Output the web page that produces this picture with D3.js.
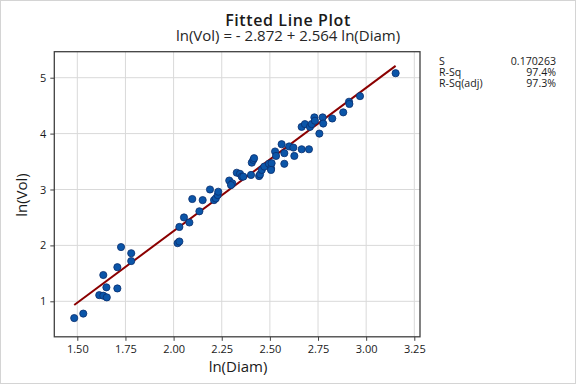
<!DOCTYPE html>
<html><head><meta charset="utf-8">
<script src="https://cdn.jsdelivr.net/npm/d3@7/dist/d3.min.js"></script>
<style>html,body{margin:0;padding:0;background:#fff;}svg{display:block;font-family:"Open Sans","Noto Sans",sans-serif;}</style>
</head><body><svg id="c" width="576" height="384"></svg>
<script>
const lnDiam = [1.484,1.531,1.614,1.635,1.653,1.651,1.635,1.708,1.708,1.727,1.780,1.780,2.021,2.030,2.030,2.054,2.082,2.134,2.097,2.151,2.189,2.210,2.219,2.229,2.232,2.289,2.305,2.298,2.328,2.345,2.354,2.362,2.402,2.406,2.414,2.418,2.444,2.449,2.458,2.471,2.495,2.506,2.509,2.506,2.527,2.532,2.561,2.575,2.575,2.600,2.622,2.627,2.665,2.703,2.665,2.682,2.708,2.717,2.731,2.734,2.757,2.774,2.777,2.824,2.881,2.911,2.913,2.968,3.153];
const lnVol = [0.70,0.78,1.11,1.10,1.07,1.25,1.47,1.23,1.61,1.97,1.86,1.72,2.04,2.07,2.33,2.50,2.41,2.61,2.83,2.81,3.00,2.81,2.84,2.90,2.96,3.16,3.11,3.08,3.30,3.28,3.23,3.23,3.26,3.48,3.53,3.56,3.24,3.27,3.35,3.41,3.46,3.38,3.47,3.35,3.68,3.60,3.81,3.65,3.46,3.77,3.75,3.60,3.72,3.72,4.12,4.17,4.12,4.17,4.29,4.23,4.00,4.29,4.18,4.27,4.38,4.57,4.53,4.67,5.08];
const xTicks = [1.50,1.75,2.00,2.25,2.50,2.75,3.00,3.25];
const yTicks = [1,2,3,4,5];
const intercept = -2.872, slope = 2.564;
const statLabels = ["S","R-Sq","R-Sq(adj)"];
const statValues = ["0.170263","97.4%","97.3%"];

const svg = d3.select("#c");
const L=54.3, R=420, T=51.7, B=336.8;
const x = d3.scaleLinear().domain([1.3805,3.2796]).range([L,R]);
const y = d3.scaleLinear().domain([0.365,5.465]).range([B,T]);

svg.append("rect").attr("x",0.5).attr("y",0.5).attr("width",575).attr("height",383).attr("fill","#fff").attr("stroke","#d4d4d4");

// grid
svg.append("g").selectAll("line").data(xTicks).join("line")
  .attr("x1",d=>x(d)).attr("x2",d=>x(d)).attr("y1",T).attr("y2",B)
  .attr("stroke","#d9d9d9").attr("stroke-width",1);
svg.append("g").selectAll("line").data(yTicks).join("line")
  .attr("y1",d=>y(d)).attr("y2",d=>y(d)).attr("x1",L).attr("x2",R)
  .attr("stroke","#d9d9d9").attr("stroke-width",1);

// axes
const xa = svg.append("g").attr("transform",`translate(0,${B})`)
  .call(d3.axisBottom(x).tickValues(xTicks).tickFormat(d3.format(".2f")).tickSize(4).tickSizeOuter(0));
const ya = svg.append("g").attr("transform",`translate(${L},0)`)
  .call(d3.axisLeft(y).tickValues(yTicks).tickFormat(d3.format("d")).tickSize(4).tickSizeOuter(0));
[xa,ya].forEach(a=>{
  a.select(".domain").remove();
  a.selectAll(".tick line").attr("stroke","#404040");
  a.selectAll(".tick text").attr("fill","#1a1a1a").attr("font-size",11).attr("font-family","'Open Sans','Noto Sans',sans-serif");
});
xa.selectAll(".tick text").attr("dy","0.95em").attr("y",6);
ya.selectAll(".tick text").attr("x",-8);

// frame
svg.append("rect").attr("x",L).attr("y",T).attr("width",R-L).attr("height",B-T)
  .attr("fill","none").attr("stroke","#404040").attr("stroke-width",1.3);

// fitted line
const x0 = d3.min(lnDiam), x1 = d3.max(lnDiam);
svg.append("line").attr("x1",x(x0)).attr("y1",y(intercept+slope*x0))
  .attr("x2",x(x1)).attr("y2",y(intercept+slope*x1))
  .attr("stroke","#8b0000").attr("stroke-width",2);

// points
svg.append("g").selectAll("circle").data(lnDiam.map((d,i)=>[d,lnVol[i]])).join("circle")
  .attr("cx",d=>x(d[0])).attr("cy",d=>y(d[1])).attr("r",3.6)
  .attr("fill","#0b55a8").attr("stroke","#0a2f6e").attr("stroke-width",0.8);

// titles
svg.append("text").attr("x",288).attr("y",26).attr("text-anchor","middle")
  .attr("font-size",16).attr("font-weight",600).attr("fill","#1a1a1a").attr("letter-spacing","0.6")
  .text("Fitted Line Plot");
svg.append("text").attr("x",288).attr("y",41).attr("text-anchor","middle")
  .attr("font-size",15).attr("fill","#262626")
  .text("ln(Vol) = - 2.872 + 2.564 ln(Diam)");
svg.append("text").attr("x",238).attr("y",372).attr("text-anchor","middle")
  .attr("font-size",15).attr("fill","#1a1a1a").text("ln(Diam)");
svg.append("text").attr("transform","translate(27,195) rotate(-90)").attr("text-anchor","middle")
  .attr("font-size",15).attr("fill","#1a1a1a").text("ln(Vol)");

// stats
statLabels.forEach((s,i)=>{
  svg.append("text").attr("x",439).attr("y",65+i*11).attr("font-size",10.6).attr("fill","#1a1a1a").text(s);
  svg.append("text").attr("x",556).attr("y",65+i*11).attr("text-anchor","end").attr("font-size",10.6).attr("fill","#1a1a1a").text(statValues[i]);
});
</script></body></html>
